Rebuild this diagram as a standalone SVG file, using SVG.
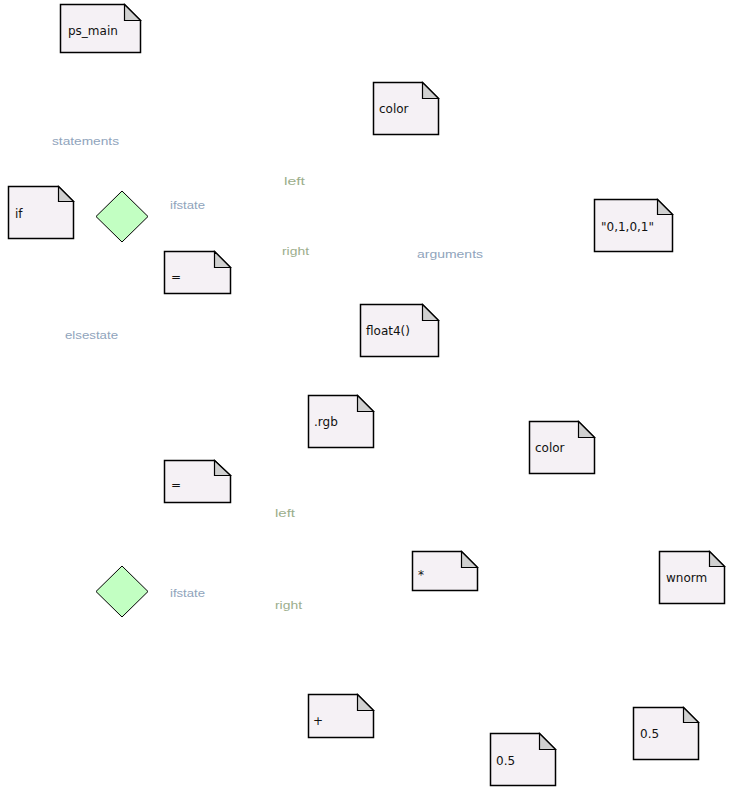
<svg xmlns="http://www.w3.org/2000/svg" width="734" height="793" viewBox="0 0 734 793">
<style>
.body{fill:#f5f1f5;stroke:#000;stroke-width:1.5}
.fold{fill:#d0d0d0;stroke:#000;stroke-width:1.2}
.t{font-family:"DejaVu Sans","Liberation Sans",sans-serif;font-size:12px;fill:#111}
.dia{fill:#c2ffc2;stroke:#000;stroke-width:1}
.lb{font-family:"Liberation Sans Narrow","Liberation Sans",sans-serif;font-size:10px;fill:#90a4bc}
.lg{font-family:"Liberation Sans Narrow","Liberation Sans",sans-serif;font-size:10px;fill:#9cae8c}
</style>
<rect width="734" height="793" fill="#fff"/>
<g id="n_ps_main"><path class="body" d="M60.5 4.5H124.5L140.5 20.5V52.5H60.5Z"/><path class="fold" d="M124.5 4.5V20.5H140.5Z"/><text class="t" x="68" y="35">ps_main</text></g>
<g id="n_if"><path class="body" d="M8.5 186.5H58.5L73.5 201.5V238.5H8.5Z"/><path class="fold" d="M58.5 186.5V201.5H73.5Z"/><text class="t" x="15" y="218">if</text></g>
<g id="n_dec1"><path class="dia" d="M122 191L148 216.5L122 242L96 216.5Z"/></g>
<g id="n_eq1"><path class="body" d="M164.5 251.5H214.5L230.5 267.5V293.5H164.5Z"/><path class="fold" d="M214.5 251.5V267.5H230.5Z"/><text class="t" x="171" y="281">=</text></g>
<g id="n_color1"><path class="body" d="M373.5 82.5H422.5L438.5 98.5V134.5H373.5Z"/><path class="fold" d="M422.5 82.5V98.5H438.5Z"/><text class="t" x="379" y="113">color</text></g>
<g id="n_float4"><path class="body" d="M360.5 304.5H422.5L438.5 320.5V356.5H360.5Z"/><path class="fold" d="M422.5 304.5V320.5H438.5Z"/><text class="t" x="366" y="335">float4()</text></g>
<g id="n_rgb"><path class="body" d="M308.5 395.5H357.5L373.5 411.5V447.5H308.5Z"/><path class="fold" d="M357.5 395.5V411.5H373.5Z"/><text class="t" x="314" y="426">.rgb</text></g>
<g id="n_const"><path class="body" d="M594.5 199.5H657.5L672.5 214.5V251.5H594.5Z"/><path class="fold" d="M657.5 199.5V214.5H672.5Z"/><text class="t" x="601" y="231">"0,1,0,1"</text></g>
<g id="n_color2"><path class="body" d="M529.5 421.5H578.5L594.5 437.5V473.5H529.5Z"/><path class="fold" d="M578.5 421.5V437.5H594.5Z"/><text class="t" x="535" y="452">color</text></g>
<g id="n_eq2"><path class="body" d="M164.5 460.5H214.5L230.5 475.5V502.5H164.5Z"/><path class="fold" d="M214.5 460.5V475.5H230.5Z"/><text class="t" x="171" y="489">=</text></g>
<g id="n_dec2"><path class="dia" d="M122 566L148 591.5L122 617L96 591.5Z"/></g>
<g id="n_mul"><path class="body" d="M412.5 551.5H461.5L477.5 567.5V590.5H412.5Z"/><path class="fold" d="M461.5 551.5V567.5H477.5Z"/><text class="t" x="418" y="579">*</text></g>
<g id="n_wnorm"><path class="body" d="M659.5 551.5H709.5L724.5 566.5V603.5H659.5Z"/><path class="fold" d="M709.5 551.5V566.5H724.5Z"/><text class="t" x="666" y="582">wnorm</text></g>
<g id="n_plus"><path class="body" d="M308.5 694.5H357.5L373.5 710.5V737.5H308.5Z"/><path class="fold" d="M357.5 694.5V710.5H373.5Z"/><text class="t" x="313" y="725">+</text></g>
<g id="n_half1"><path class="body" d="M490.5 733.5H539.5L555.5 749.5V785.5H490.5Z"/><path class="fold" d="M539.5 733.5V749.5H555.5Z"/><text class="t" x="496" y="765">0.5</text></g>
<g id="n_half2"><path class="body" d="M633.5 707.5H683.5L698.5 722.5V759.5H633.5Z"/><path class="fold" d="M683.5 707.5V722.5H698.5Z"/><text class="t" x="640" y="738">0.5</text></g>
<g id="connectors">
<text class="lb" x="52" y="145" textLength="67" lengthAdjust="spacingAndGlyphs">statements</text>
<text class="lb" x="170" y="209" textLength="35" lengthAdjust="spacingAndGlyphs">ifstate</text>
<text class="lb" x="65" y="339" textLength="53" lengthAdjust="spacingAndGlyphs">elsestate</text>
<text class="lg" x="284" y="185" textLength="21" lengthAdjust="spacingAndGlyphs">left</text>
<text class="lg" x="282" y="255" textLength="27" lengthAdjust="spacingAndGlyphs">right</text>
<text class="lb" x="417" y="258" textLength="66" lengthAdjust="spacingAndGlyphs">arguments</text>
<text class="lb" x="170" y="597" textLength="35" lengthAdjust="spacingAndGlyphs">ifstate</text>
<text class="lg" x="275" y="517" textLength="20" lengthAdjust="spacingAndGlyphs">left</text>
<text class="lg" x="275" y="609" textLength="27" lengthAdjust="spacingAndGlyphs">right</text>
</g>
</svg>
